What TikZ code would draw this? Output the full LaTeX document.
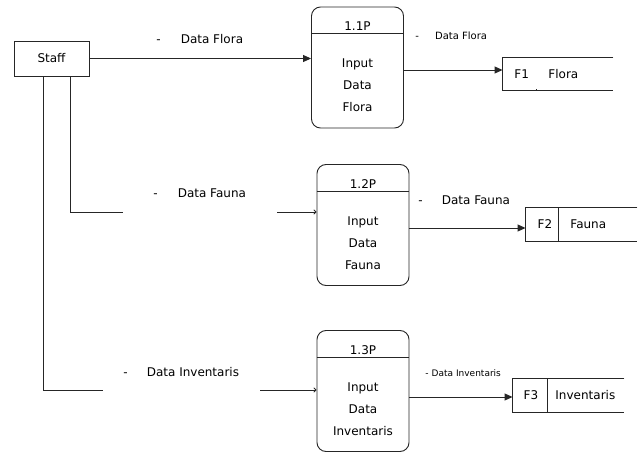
\documentclass[tikz,border=0pt]{standalone}
\usepackage{fontspec}
\setmainfont{DejaVu Sans}
\usetikzlibrary{arrows.meta}
\tikzset{
	proc/.style={draw, rounded corners=9pt, minimum width=92pt, minimum height=121pt, inner sep=0pt},
	ent/.style={draw, minimum width=75pt, minimum height=35pt, inner sep=0pt},
	store/.style={minimum width=110pt, minimum height=33pt, inner sep=0pt},
	txt/.style={font=\fontsize{12}{13}\selectfont, inner sep=0pt},
	body/.style={align=center, font=\fontsize{12}{22}\selectfont, inner sep=0pt},
	flow/.style={-{Triangle[length=8pt,width=7pt]}},
	inflow/.style={-{To[length=3pt,width=5pt]}}
}
\begin{document}
\begin{tikzpicture}[x=1pt, y=-1pt, line width=0.9pt, draw=black!85]
	\useasboundingbox (0,0) rectangle (643,452);
	% entity
	\node[ent, txt] (staff) at (51.5,58.5) {Staff};
	% processes
	\node[proc] (p1) at (357.5,67.5) {};
	\node[proc] (p2) at (363,225) {};
	\node[proc] (p3) at (363,391) {};
	\foreach \p/\id/\what in {p1/1.1P/Flora, p2/1.2P/Fauna, p3/1.3P/Inventaris}{
		\draw ([yshift=-27pt]\p.north west) -- ([yshift=-27pt]\p.north east);
		\node[txt] (\p-id) at ([yshift=-20pt]\p.north) {\id};
		\node[body] (\p-body) at ([yshift=-79pt]\p.north) {Input\\Data\\\what};
	}
	% data stores
	\node[store] (f1) at (558,74) {};
	\node[store, minimum width=111pt] (f2) at (581.5,224.5) {};
	\node[store, minimum width=111pt] (f3) at (568.5,395.5) {};
	\foreach \f in {f1,f2,f3}
		\draw (\f.north east) -- (\f.north west) -- (\f.south west) -- (\f.south east);
	\draw ([xshift=34pt]f1.south west) -- ++(0,-2);
	\draw ([xshift=33pt]f2.south west) -- ([xshift=33pt]f2.north west);
	\draw ([xshift=35pt]f3.south west) -- ([xshift=35pt]f3.north west);
	\node[txt, anchor=west] (f1-id) at (514,74) {F1};
	\node[txt, anchor=west] (f1-name) at (548,74) {Flora};
	\node[txt] (f2-id) at (545,224.5) {F2};
	\node[txt, anchor=west] (f2-name) at (570,224.5) {Fauna};
	\node[txt] (f3-id) at (531,395.5) {F3};
	\node[txt, anchor=west] (f3-name) at (555,395.5) {Inventaris};
	% flows from staff
	\draw[flow] (staff) -- (staff -| p1.west);
	\coordinate (s2) at ([xshift=18.5pt]staff.south);
	\coordinate (g2) at (123,212);
	\coordinate (h2) at (277,212);
	\draw (s2) |- (g2);
	\draw[inflow] (h2) -- (h2 -| p2.west);
	\coordinate (s3) at ([xshift=-8.5pt]staff.south);
	\coordinate (g3) at (103,390);
	\coordinate (h3) at (260,390);
	\draw (s3) |- (g3);
	\draw[inflow] (h3) -- (h3 -| p3.west);
	% flows to stores
	\coordinate (a1) at ([yshift=4pt]f1.west);
	\draw[flow] (p1.east |- a1) -- (a1);
	\coordinate (a2) at ([yshift=-3.5pt]f2.west);
	\draw[flow] (p2.east |- a2) -- (a2);
	\coordinate (a3) at ([yshift=-1.5pt]f3.west);
	\draw[flow] (p3.east |- a3) -- (a3);
	% labels
	\node[txt, anchor=west] (l1) at (156,39) {-\hspace{20pt}Data Flora};
	\node[txt, anchor=west, font=\fontsize{10}{11}\selectfont] (l2) at (415,36) {-\hspace{16pt}Data Flora};
	\node[txt, anchor=west] (l3) at (153,193) {-\hspace{20pt}Data Fauna};
	\node[txt, anchor=west] (l4) at (418,200) {-\hspace{19pt}Data Fauna};
	\node[txt, anchor=west] (l5) at (123,372) {-\hspace{19pt}Data Inventaris};
	\node[txt, anchor=west, font=\fontsize{9}{10}\selectfont] (l6) at (425,373) {-\hspace{3pt}Data Inventaris};
\end{tikzpicture}
\end{document}
